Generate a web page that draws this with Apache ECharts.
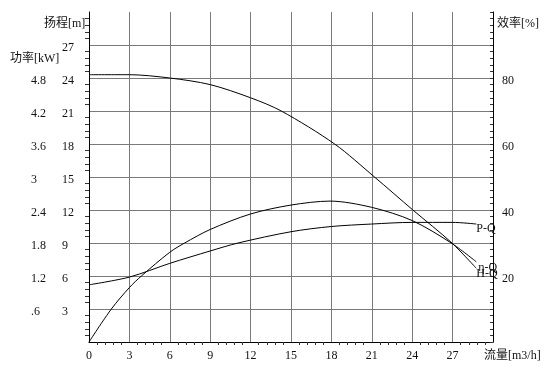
<!DOCTYPE html>
<html><head><meta charset="utf-8">
<script src="https://cdn.jsdelivr.net/npm/echarts@6/dist/echarts.min.js"></script>
<style>html,body{margin:0;padding:0;background:#fff}#c{width:555px;height:374px}</style>
</head><body><div id="c"></div>
<script>
// Data (flow in m3/h)
var headFlow  = [0, 3, 6, 9, 12, 14.28, 18.24, 21.2, 24.05, 26.95, 28.76];
var head      = [24.3, 24.3, 24.0, 23.4, 22.2, 21.0, 18.0, 15.0, 12.0, 9.0, 6.7];
var effFlow   = [0, 1.66, 3, 3.89, 6, 7.1, 9, 12, 15, 17.9, 21, 24, 26.9, 28.76];
var eff       = [0, 10.0, 16.5, 20.0, 27.2, 30.0, 34.1, 38.8, 41.5, 42.7, 40.8, 36.8, 30.0, 24.3];
var powerFlow = [0, 3, 6, 9, 11.07, 15, 18, 21, 24, 27, 28.76];
var power     = [1.04, 1.18, 1.43, 1.655, 1.8, 2.005, 2.10, 2.145, 2.175, 2.175, 2.145];
var seriesNames = ['H-Q', 'η-Q', 'P-Q'];
var axisNames = {flow: '流量[m3/h]', head: '扬程[m]', power: '功率[kW]', eff: '效率[%]'};

function pairs(xs, ys){ return xs.map(function(x,i){ return [x, ys[i]]; }); }

var FONT = '"Liberation Serif","Noto Sans CJK SC",serif';
var txt = {color:'#111', fontFamily: FONT, fontSize: 12};
var yLab = {verticalAlign:'top', lineHeight:6};
var SM = 0.3;
var chart = echarts.init(document.getElementById('c'), null, {renderer:'canvas'});
chart.setOption({
  animation:false,
  backgroundColor:'#fff',
  grid:{left:89, right:62, top:12, bottom:32},
  xAxis:{
    type:'value', min:0, max:30, interval:3,
    axisLine:{show:true, onZero:false, lineStyle:{color:'#000', width:1}},
    axisTick:{show:false},
    minorTick:{show:true, splitNumber:5, length:3, lineStyle:{color:'#333'}},
    splitLine:{show:true, lineStyle:{color:'#7a7a7a', width:1}},
    axisLabel:Object.assign({margin:8, formatter:function(v){ return v>=30 ? '' : String(v); }}, txt)
  },
  yAxis:[
    {
      type:'value', position:'left', min:0, max:30, interval:3,
      axisLine:{show:true, onZero:false, lineStyle:{color:'#000'}},
      axisTick:{show:false},
      minorTick:{show:true, splitNumber:5, length:4, lineStyle:{color:'#333'}},
      splitLine:{show:true, showMaxLine:false, lineStyle:{color:'#7a7a7a', width:1}},
      axisLabel:Object.assign({margin:27, align:'left',
        formatter:function(v){ return (v<=0||v>=30) ? '' : String(Math.round(v)); }}, txt, yLab)
    },
    {
      type:'value', position:'left', min:0, max:6, interval:0.6,
      axisLine:{show:false}, axisTick:{show:false}, splitLine:{show:false},
      axisLabel:Object.assign({margin:58, align:'left',
        formatter:function(v){
          var r = Math.round(v*10)/10;
          if (r<=0 || r>5) return '';
          var s = String(r);
          if (s.indexOf('0.')===0) s = s.substring(1);
          return s;
        }}, txt, yLab)
    },
    {
      type:'value', position:'right', min:0, max:100, interval:20,
      axisLine:{show:true, onZero:false, lineStyle:{color:'#000'}},
      axisTick:{show:true, inside:true, length:3, lineStyle:{color:'#333'}},
      minorTick:{show:true, splitNumber:10, length:3, lineStyle:{color:'#333'}},
      splitLine:{show:false},
      axisLabel:Object.assign({margin:9, align:'left',
        formatter:function(v){ return (v<=0||v>=100) ? '' : String(v); }}, txt, yLab)
    }
  ],
  series:[
    {name:seriesNames[0], type:'line', yAxisIndex:0, data:pairs(headFlow, head), smooth:SM,
     showSymbol:false, lineStyle:{color:'#000', width:1},
     endLabel:Object.assign({show:true, formatter:seriesNames[0], distance:0, offset:[0,6]}, txt)},
    {name:seriesNames[1], type:'line', yAxisIndex:2, data:pairs(effFlow, eff), smooth:SM,
     showSymbol:false, lineStyle:{color:'#000', width:1},
     endLabel:Object.assign({show:true, formatter:seriesNames[1], distance:0, offset:[2,6]}, txt)},
    {name:seriesNames[2], type:'line', yAxisIndex:1, data:pairs(powerFlow, power), smooth:SM,
     showSymbol:false, lineStyle:{color:'#000', width:1},
     endLabel:Object.assign({show:true, formatter:seriesNames[2], distance:0, offset:[0,5]}, txt)}
  ],
  graphic:[
    {type:'text', left:44, top:18, style:{text:axisNames.head, fill:'#111', font:'12px '+FONT}},
    {type:'text', left:10, top:53, style:{text:axisNames.power, fill:'#111', font:'12px '+FONT}},
    {type:'text', left:497, top:18, style:{text:axisNames.eff, fill:'#111', font:'12px '+FONT}},
    {type:'text', left:484, top:350, style:{text:axisNames.flow, fill:'#111', font:'12px '+FONT}}
  ]
});
</script></body></html>
